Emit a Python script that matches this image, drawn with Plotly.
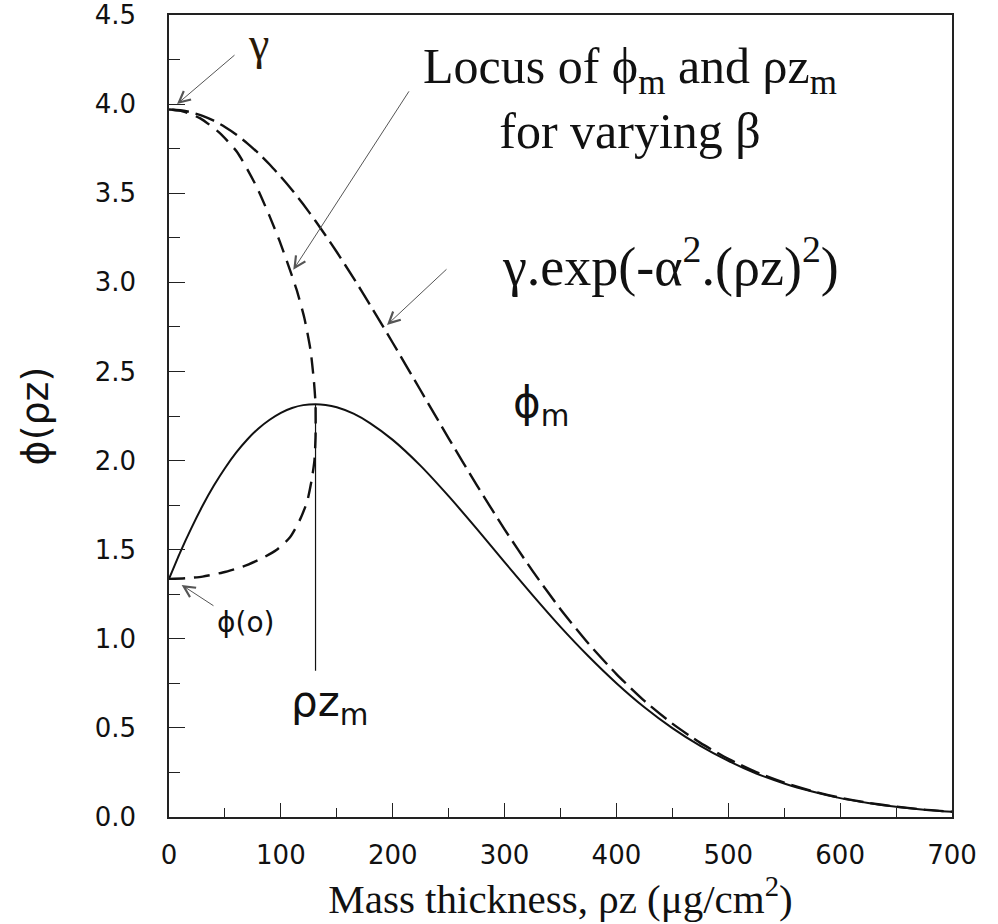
import plotly.graph_objects as go

# ---- data ----
rho_z = [0, 10, 20, 30, 40, 50, 60, 70, 80, 90, 100, 110, 120, 131, 140, 150, 165, 180,
         200, 225, 250, 275, 300, 325, 350, 375, 400, 425, 450, 475, 500, 525, 550, 575,
         600, 625, 650, 675, 700]
phi_rz = [1.336, 1.485, 1.621, 1.746, 1.858, 1.957, 2.044, 2.118, 2.180, 2.229, 2.268,
          2.295, 2.311, 2.316, 2.312, 2.299, 2.263, 2.209, 2.116, 1.970, 1.800, 1.618,
          1.430, 1.245, 1.067, 0.902, 0.751, 0.616, 0.499, 0.399, 0.315, 0.244, 0.188,
          0.143, 0.106, 0.0786, 0.0573, 0.0412, 0.0293]
gauss = [3.970, 3.966, 3.954, 3.934, 3.907, 3.872, 3.830, 3.780, 3.724, 3.661, 3.592,
         3.518, 3.438, 3.344, 3.263, 3.170, 3.024, 2.871, 2.661, 2.393, 2.125, 1.864,
         1.614, 1.381, 1.166, 0.973, 0.802, 0.652, 0.524, 0.416, 0.326, 0.252, 0.193,
         0.146, 0.108, 0.0799, 0.0581, 0.0417, 0.0296]

locus_x = [0, 15, 30, 48, 66, 82, 96, 108, 117, 123.5, 127.5, 130, 131, 131, 129.5,
           126.5, 121, 114, 107, 99, 90, 78, 61, 45, 28, 12, 0]
locus_y = [1.336, 1.340, 1.349, 1.372, 1.405, 1.448, 1.498, 1.568, 1.667, 1.77, 1.89,
           2.0, 2.13, 2.316, 2.45, 2.62, 2.80, 2.96, 3.09, 3.23, 3.37, 3.54, 3.73,
           3.84, 3.92, 3.96, 3.97]

rho_zm = 131
phi_m = 2.316
rho_zm_mark_low = 0.82

x_ticks = [0, 100, 200, 300, 400, 500, 600, 700]
y_ticks = [0.0, 0.5, 1.0, 1.5, 2.0, 2.5, 3.0, 3.5, 4.0, 4.5]
y_tick_labels = ["0.0", "0.5", "1.0", "1.5", "2.0", "2.5", "3.0", "3.5", "4.0", "4.5"]

INK = "#111111"
ARROW = "#555555"
SERIF = "Liberation Serif, Times New Roman, serif"
SANS = "DejaVu Sans, Arial, sans-serif"

fig = go.Figure()

fig.add_trace(go.Scatter(x=rho_z, y=gauss, mode="lines",
                         line=dict(color=INK, width=2.4, dash="20px,7px", shape="spline", smoothing=0.6),
                         showlegend=False, hoverinfo="skip"))
fig.add_trace(go.Scatter(x=locus_x, y=locus_y, mode="lines",
                         line=dict(color=INK, width=2.4, dash="16px,9px", shape="spline", smoothing=0.6),
                         showlegend=False, hoverinfo="skip"))
fig.add_trace(go.Scatter(x=rho_z, y=phi_rz, mode="lines",
                         line=dict(color=INK, width=2, shape="spline", smoothing=0.6),
                         showlegend=False, hoverinfo="skip"))
fig.add_trace(go.Scatter(x=[rho_zm, rho_zm], y=[phi_m, rho_zm_mark_low], mode="lines",
                         line=dict(color=INK, width=1.2),
                         showlegend=False, hoverinfo="skip"))

ann = []
# text labels
ann.append(dict(x=79.6, y=4.34, text="γ", showarrow=False,
                font=dict(family=SERIF, size=46, color="#2a1a08")))
ann.append(dict(x=412, y=4.03, text="Locus of ϕ<sub>m</sub> and ρz<sub>m</sub><br>for varying β",
                showarrow=False, align="center",
                font=dict(family=SERIF, size=50, color=INK)))
ann.append(dict(x=448, y=3.11, text="γ.exp(-α<sup>2</sup>.(ρz)<sup>2</sup>)", showarrow=False,
                font=dict(family=SERIF, size=54, color=INK)))
ann.append(dict(x=332.6, y=2.31, text="ϕ<sub>m</sub>", showarrow=False,
                font=dict(family=SANS, size=42, color=INK)))
ann.append(dict(x=143.9, y=0.634, text="ρz<sub>m</sub>", showarrow=False,
                font=dict(family=SANS, size=42, color=INK)))
ann.append(dict(x=68.4, y=1.089, text="ϕ(o)", showarrow=False,
                font=dict(family=SANS, size=28, color=INK)))

# arrows
arrow_common = dict(text="", showarrow=True, axref="x", ayref="y", arrowhead=5,
                    arrowsize=2.2, arrowwidth=1, arrowcolor=ARROW)
ann.append(dict(x=7.2, y=4.0, ax=59.9, ay=4.282, **arrow_common))
ann.append(dict(x=111.1, y=3.07, ax=215.4, ay=4.08, **arrow_common))
ann.append(dict(x=194.9, y=2.761, ax=249.4, ay=3.081, **arrow_common))
ann.append(dict(x=11.3, y=1.302, ax=41.1, ay=1.18, **arrow_common))

fig.update_layout(
    width=998, height=924,
    margin=dict(l=169, r=46, t=15, b=107),
    paper_bgcolor="white", plot_bgcolor="white",
    annotations=ann,
    showlegend=False,
)

fig.update_xaxes(range=[0, 700], tickvals=x_ticks, ticks="inside", ticklen=14, tickwidth=1.2,
                 tickcolor="#222", showline=True, mirror=True, linecolor="#222", linewidth=1.5,
                 showgrid=False, zeroline=False, automargin=False, ticklabeloverflow="allow",
                 minor=dict(dtick=50, ticks="inside", ticklen=9, tickwidth=1.2, tickcolor="#222", showgrid=False),
                 tickfont=dict(family=SANS, size=26, color=INK), ticklabelstandoff=14,
                 title=dict(text="Mass thickness, ρz (μg/cm<sup>2</sup>)", standoff=14,
                            font=dict(family=SERIF, size=41, color=INK)))
fig.update_yaxes(range=[0, 4.5], tickvals=y_ticks, ticktext=y_tick_labels, ticks="inside",
                 ticklen=16, tickwidth=1.2, tickcolor="#222", showline=True, mirror=True,
                 linecolor="#222", linewidth=1.5, showgrid=False, zeroline=False, automargin=False,
                 ticklabeloverflow="allow",
                 minor=dict(dtick=0.25, ticks="inside", ticklen=11, tickwidth=1.2, tickcolor="#222", showgrid=False),
                 tickfont=dict(family=SANS, size=26, color=INK), ticklabelstandoff=26,
                 title=dict(text="ϕ(ρz)", standoff=34,
                            font=dict(family=SANS, size=38, color=INK)))

# remove the browser's default 8 px page margin so the figure fills the window exactly
fig.write_html("out.html", config={"displayModeBar": False},
               post_script="document.body.style.margin='0';")
